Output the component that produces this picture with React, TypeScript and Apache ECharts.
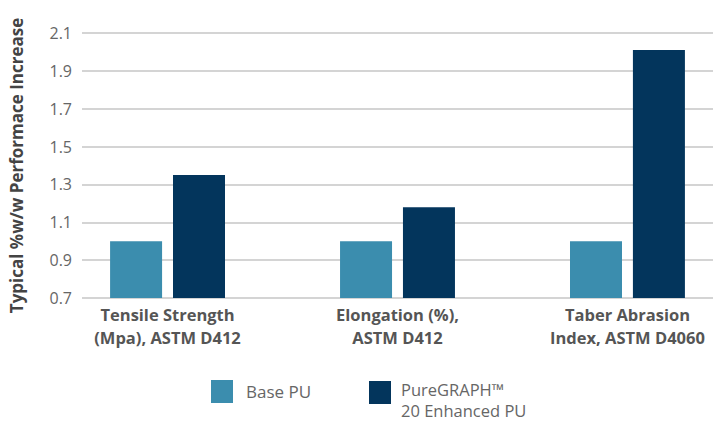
import React, { useEffect, useRef } from "react";
import * as echarts from "echarts";

const categories = [
  "Tensile Strength\n(Mpa), ASTM D412",
  "Elongation (%),\nASTM D412",
  "Taber Abrasion\nIndex, ASTM D4060",
];
const basePU = [1.0, 1.0, 1.0];
const enhancedPU = [1.35, 1.18, 2.01];
const seriesNames = ["Base PU", "PureGRAPH™\n20 Enhanced PU"];
const yAxisName = "Typical %w/w Performace Increase";
const yMin = 0.7;
const yMax = 2.1;
const yStep = 0.2;

const BASE_COLOR = "#3B8DAE";
const DARK_COLOR = "#03355C";
const FONT = "'Open Sans', 'Noto Sans', sans-serif";

export default function App() {
  const ref = useRef<HTMLDivElement>(null);
  useEffect(() => {
    if (!ref.current) return;
    const chart = echarts.init(ref.current, undefined, { renderer: "svg" });
    const catIdx = categories.map((_, i) => i);
    chart.setOption({
      animation: false,
      textStyle: { fontFamily: FONT },
      grid: { left: 82, right: 0, top: 33, bottom: 123, containLabel: false },
      xAxis: {
        type: "value",
        min: -0.372,
        max: 2.372,
        axisLine: { show: false },
        axisTick: { show: false },
        splitLine: { show: false },
        axisLabel: {
          customValues: catIdx,
          formatter: (v: number) => categories[Math.round(v)] ?? "",
          fontFamily: FONT,
          fontSize: 16.5,
          fontWeight: "bold",
          color: "#555555",
          lineHeight: 23,
          margin: 5,
          align: "center",
        },
      },
      yAxis: {
        type: "value",
        min: yMin,
        max: yMax,
        interval: yStep,
        name: yAxisName,
        nameLocation: "middle",
        nameGap: 57,
        nameTextStyle: {
          fontFamily: FONT,
          fontSize: 17,
          fontWeight: "bold",
          color: "#444444",
        },
        axisLine: { show: false },
        axisTick: { show: false },
        axisLabel: {
          formatter: (v: number) => v.toFixed(1),
          fontFamily: FONT,
          fontSize: 16,
          color: "#666666",
          margin: 10,
        },
        splitLine: { lineStyle: { color: "#D4D4D4", width: 2 } },
      },
      series: [
        {
          name: seriesNames[0],
          type: "bar",
          data: basePU.map((v, i) => [catIdx[i], v]),
          barWidth: 52,
          barGap: "21%",
          itemStyle: { color: BASE_COLOR },
        },
        {
          name: seriesNames[1],
          type: "bar",
          data: enhancedPU.map((v, i) => [catIdx[i], v]),
          barWidth: 52,
          barGap: "21%",
          itemStyle: { color: DARK_COLOR },
        },
      ],
      graphic: [
        { type: "rect", left: 211, top: 380, shape: { width: 22, height: 23 }, style: { fill: BASE_COLOR } },
        {
          type: "text",
          x: 246,
          y: 380,
          style: {
            text: seriesNames[0],
            font: `17px ${FONT}`,
            fill: "#666666",
            lineHeight: 22,
            verticalAlign: "top",
          },
        },
        { type: "rect", left: 369, top: 381, shape: { width: 22, height: 23 }, style: { fill: DARK_COLOR } },
        {
          type: "text",
          x: 401,
          y: 379,
          style: {
            text: seriesNames[1],
            font: `16.5px ${FONT}`,
            fill: "#666666",
            lineHeight: 21,
            verticalAlign: "top",
          },
        },
      ],
    });
    return () => chart.dispose();
  }, []);
  return (
    <div
      ref={ref}
      style={{ position: "absolute", left: 0, top: 0, width: 713, height: 421 }}
    />
  );
}
